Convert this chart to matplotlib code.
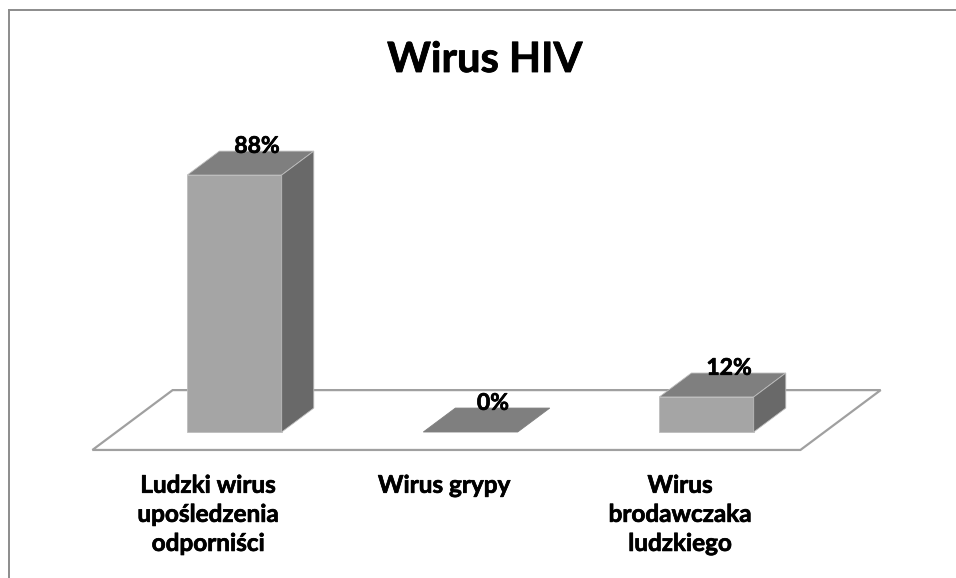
import matplotlib
matplotlib.use("Agg")
import matplotlib.pyplot as plt
import matplotlib.patheffects as pe
from matplotlib.patches import Polygon
from matplotlib.lines import Line2D

# ---- data ----
title = "Wirus HIV"
categories = ["Ludzki wirus\nupośledzenia\nodporniści", "Wirus grypy", "Wirus\nbrodawczaka\nludzkiego"]
values = [88, 0, 12]
value_labels = ["88%", "0%", "12%"]

# ---- style ----
FRONT = "#A5A5A5"
TOP = "#7F7F7F"
SIDE = "#696969"
EDGE = "#BDBDBD"
FLOOR_EDGE = "#A0A0A0"
BAR_W = 0.40
DX, DY = 0.136, 8.2      # pseudo-3D depth offset (data units)
FONT = ["Lato", "DejaVu Sans"]
WEIGHT = "bold"
THICK = [pe.withStroke(linewidth=0.5, foreground="black")]
THICK_T = [pe.withStroke(linewidth=0.6, foreground="black")]

W, H = 956, 578
fig = plt.figure(figsize=(W / 100, H / 100), dpi=100)
ax = fig.add_axes([0, 0, 1, 1])
ax.set_xlim(-0.9936, 3.0572)
ax.set_ylim(-50.0, 147.95)
ax.axis("off")

n = len(values)

def off(x, y, k):
    return (x + k * DX, y + k * DY)

f0 = -0.75
f1 = 1.75
floor = Polygon([off(-0.5, 0, f0), off(n - 0.5, 0, f0), off(n - 0.5, 0, f1), off(-0.5, 0, f1)],
                closed=True, facecolor="white", edgecolor=FLOOR_EDGE, lw=1.6, zorder=1)
ax.add_patch(floor)

for i, v in enumerate(values):
    x0, x1 = i - BAR_W / 2, i + BAR_W / 2
    top = Polygon([(x0, v), (x1, v), (x1 + DX, v + DY), (x0 + DX, v + DY)],
                  closed=True, facecolor=TOP, edgecolor=EDGE if v > 0 else TOP, lw=0.6, zorder=3)
    ax.add_patch(top)
    if v > 0:
        front = Polygon([(x0, 0), (x1, 0), (x1, v), (x0, v)], closed=True,
                        facecolor=FRONT, edgecolor=EDGE, lw=0.6, zorder=3)
        side = Polygon([(x1, 0), (x1 + DX, DY), (x1 + DX, v + DY), (x1, v)], closed=True,
                       facecolor=SIDE, edgecolor=EDGE, lw=0.6, zorder=3)
        ax.add_patch(front)
        ax.add_patch(side)
    ax.text(i + 0.7 * DX, v + DY - 0.6, value_labels[i], ha="center", va="baseline",
            fontsize=16.5, fontweight=WEIGHT, family=FONT, zorder=5, path_effects=THICK)

for i, c in enumerate(categories):
    ax.text(i + f0 * DX - 0.01, -14.3, c, ha="center", va="top", fontsize=17.5,
            fontweight=WEIGHT, family=FONT, linespacing=1.32, path_effects=THICK)

fig.text(0.507, 1 - 72 / H, title, ha="center", va="baseline", fontsize=30,
         fontweight=WEIGHT, family=FONT, path_effects=THICK_T)

# chart border
bx, by = 8.5 / W, 1 - 9.5 / H
fig.add_artist(Line2D([bx, bx], [0, by], color="#8C8C8C", lw=1.4, transform=fig.transFigure))
fig.add_artist(Line2D([bx, 1], [by, by], color="#8C8C8C", lw=1.4, transform=fig.transFigure))

fig.savefig("out.png", dpi=100)
